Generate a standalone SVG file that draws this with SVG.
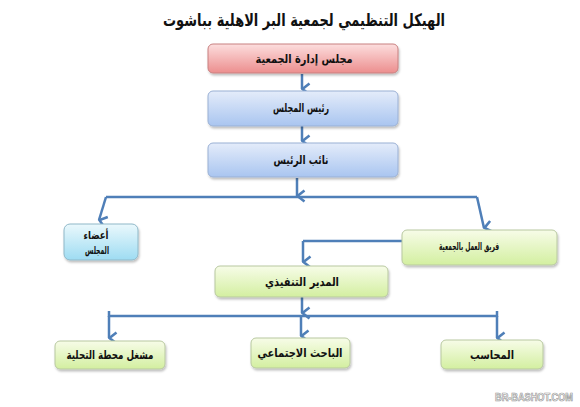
<svg xmlns="http://www.w3.org/2000/svg" width="580" height="407" viewBox="0 0 580 407">
<defs>
<linearGradient id="gRed" x1="0" y1="0" x2="0" y2="1"><stop offset="0" stop-color="#fcdede"/><stop offset="1" stop-color="#ec8e8e"/></linearGradient>
<linearGradient id="gBlue" x1="0" y1="0" x2="0" y2="1"><stop offset="0" stop-color="#e4ecfa"/><stop offset="1" stop-color="#a9c5f0"/></linearGradient>
<linearGradient id="gCyan" x1="0" y1="0" x2="0" y2="1"><stop offset="0" stop-color="#eaf8fc"/><stop offset="1" stop-color="#9edcf2"/></linearGradient>
<linearGradient id="gGreen" x1="0" y1="0" x2="0" y2="1"><stop offset="0" stop-color="#f7fce8"/><stop offset="1" stop-color="#d3efa0"/></linearGradient>
<filter id="sh" x="-10%" y="-20%" width="125%" height="150%"><feDropShadow dx="1" dy="2" stdDeviation="1.2" flood-color="#000" flood-opacity="0.25"/></filter>
<marker id="ah" viewBox="0 0 14 12" refX="7" refY="10.5" markerWidth="14" markerHeight="12" markerUnits="userSpaceOnUse" orient="auto-start-reverse">
<path d="M1.5,3 L7,10 L12.5,3" fill="none" stroke="#4f7fb8" stroke-width="2.6"/>
</marker>
</defs>
<style>
.box{stroke-width:1;filter:url(#sh)}
.red{fill:url(#gRed);stroke:#c88080}
.blue{fill:url(#gBlue);stroke:#9ab0d4}
.cyan{fill:url(#gCyan);stroke:#8fb8c8}
.green{fill:url(#gGreen);stroke:#b8c8a0}
.t{font-family:"DejaVu Sans","Liberation Sans",sans-serif;font-weight:bold;font-size:12px;fill:#111;text-anchor:middle}
.c{fill:none;stroke:#4f7fb8;stroke-width:2.5}
.a{marker-end:url(#ah)}
</style>
<rect width="580" height="407" fill="#fff"/>
<text x="304" y="26" class="t" style="font-size:17px" textLength="282" lengthAdjust="spacingAndGlyphs">الهيكل التنظيمي لجمعية البر الاهلية بباشوت</text>
<g id="connectors">
<path class="c a" d="M302,74 V89"/>
<path class="c a" d="M302,126 V141"/>
<path class="c a" d="M297,178 V196"/>
<path class="c" d="M106,197 H477"/>
<path class="c a" d="M106,197 L99,220"/>
<path class="c a" d="M477,197 L484,228"/>
<path class="c" d="M402,241 H303"/>
<path class="c a" d="M303,241 V262"/>
<path class="c a" d="M302,297 V313"/>
<path class="c" d="M109,311 V317 M497,311 V317 M109,316 H497"/>
<path class="c a" d="M109,316 V338"/>
<path class="c a" d="M301,316 V336"/>
<path class="c a" d="M497,316 V338"/>
</g>
<g id="n1"><rect class="box red" x="208" y="44" width="190" height="29" rx="5"/><text class="t" x="304" y="63" textLength="97" lengthAdjust="spacingAndGlyphs">مجلس إدارة الجمعية</text></g>
<g id="n2"><rect class="box blue" x="208" y="91" width="190" height="35" rx="5"/><text class="t" x="301" y="112" textLength="56" lengthAdjust="spacingAndGlyphs">رئيس المجلس</text></g>
<g id="n3"><rect class="box blue" x="208" y="143" width="190" height="34" rx="5"/><text class="t" x="301" y="164" textLength="55" lengthAdjust="spacingAndGlyphs">نائب الرئيس</text></g>
<g id="n4"><rect class="box cyan" x="64" y="224" width="74" height="36" rx="6"/><text class="t" x="96" y="239" style="font-size:11px" textLength="25" lengthAdjust="spacingAndGlyphs">أعضاء</text><text class="t" x="97" y="254" style="font-size:11px" textLength="24" lengthAdjust="spacingAndGlyphs">المجلس</text></g>
<g id="n5"><rect class="box green" x="402" y="230" width="155" height="35" rx="5"/><text class="t" x="469" y="250" style="font-size:11px" textLength="60" lengthAdjust="spacingAndGlyphs">فريق العمل بالجمعية</text></g>
<g id="n6"><rect class="box green" x="215" y="266" width="173" height="31" rx="5"/><text class="t" x="302" y="286" textLength="74" lengthAdjust="spacingAndGlyphs">المدير التنفيذي</text></g>
<g id="n7"><rect class="box green" x="55" y="341" width="110" height="28" rx="5"/><text class="t" x="110" y="359" textLength="87" lengthAdjust="spacingAndGlyphs">مشغل محطة التحلية</text></g>
<g id="n8"><rect class="box green" x="251" y="338" width="99" height="30" rx="5"/><text class="t" x="300" y="357" textLength="85" lengthAdjust="spacingAndGlyphs">الباحث الاجتماعي</text></g>
<g id="n9"><rect class="box green" x="441" y="340" width="102" height="29" rx="5"/><text class="t" x="492" y="359" textLength="44" lengthAdjust="spacingAndGlyphs">المحاسب</text></g>
<text x="573" y="401" font-family="Liberation Sans, Arial, sans-serif" font-weight="bold" font-size="10" fill="#fff" stroke="#999" stroke-width="0.7" text-anchor="end" textLength="78" lengthAdjust="spacingAndGlyphs">BR-BASHOT.COM</text>
</svg>
